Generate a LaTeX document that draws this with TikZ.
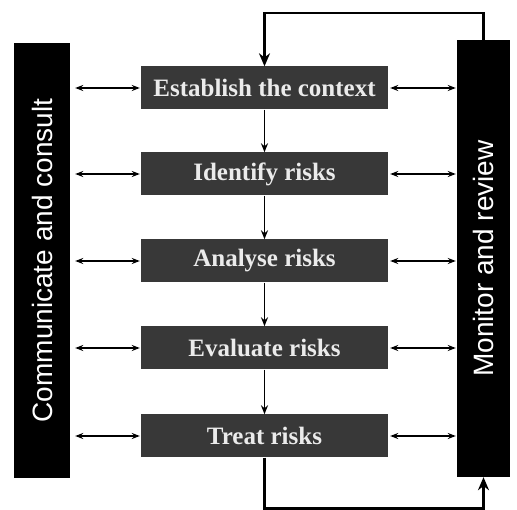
\documentclass[tikz,border=0pt]{standalone}
\usepackage{fontspec}
\setmainfont{Liberation Serif}
\setsansfont{Liberation Sans}
\usetikzlibrary{arrows.meta}

\begin{document}
\begin{tikzpicture}[x=1pt,y=-1pt,
  stage/.style={fill=black!78,text=black!8,minimum width=247pt,minimum height=43pt,
    inner sep=0pt,font=\fontsize{25}{25}\selectfont\bfseries},
  bar/.style={fill=black,text=white,rotate=90,inner sep=0pt,
    font=\fontsize{28}{28}\selectfont\sffamily},
  flow/.style={line width=1.5pt,-{Stealth[length=9pt,width=7pt]}},
  dbl/.style={line width=1.3pt,{Stealth[length=8pt,width=6pt]}-{Stealth[length=8pt,width=6pt]}},
  fb/.style={line width=2.5pt,-{Stealth[length=13pt,width=11pt]}}]

% frame
\useasboundingbox (0,0) rectangle (517,510);

% side bars
\node[bar,minimum width=435pt,minimum height=56pt] (comm) at (42,260.5) {Communicate and consult};
\node[bar,minimum width=437pt,minimum height=53pt] (mon) at (483.5,258.5) {Monitor and review};

% process steps
\foreach \n/\t/\y in {1/Establish the context/88,2/Identify risks/174,3/Analyse risks/261,
                      4/Evaluate risks/348,5/Treat risks/436}{
  \node[stage] (s\n) at (264.5,\y) {\t};
  \draw[dbl,shorten <=5pt,shorten >=1pt] (comm.south |- s\n) -- (s\n.west);
  \draw[dbl,shorten <=2pt,shorten >=1pt] (s\n.east) -- (mon.north |- s\n);
}

% flow down
\foreach \i [evaluate = \i as \j using int(\i+1)] in {1,2,3,4}{
  \draw[flow] (s\i) -- (s\j);
}

% feedback loops
\draw[fb] (mon.east) -- ++(0,-27) -| (s1.north);
\draw[fb] (s5.south) -- ++(0,51) -| (mon.west);
\end{tikzpicture}
\end{document}
